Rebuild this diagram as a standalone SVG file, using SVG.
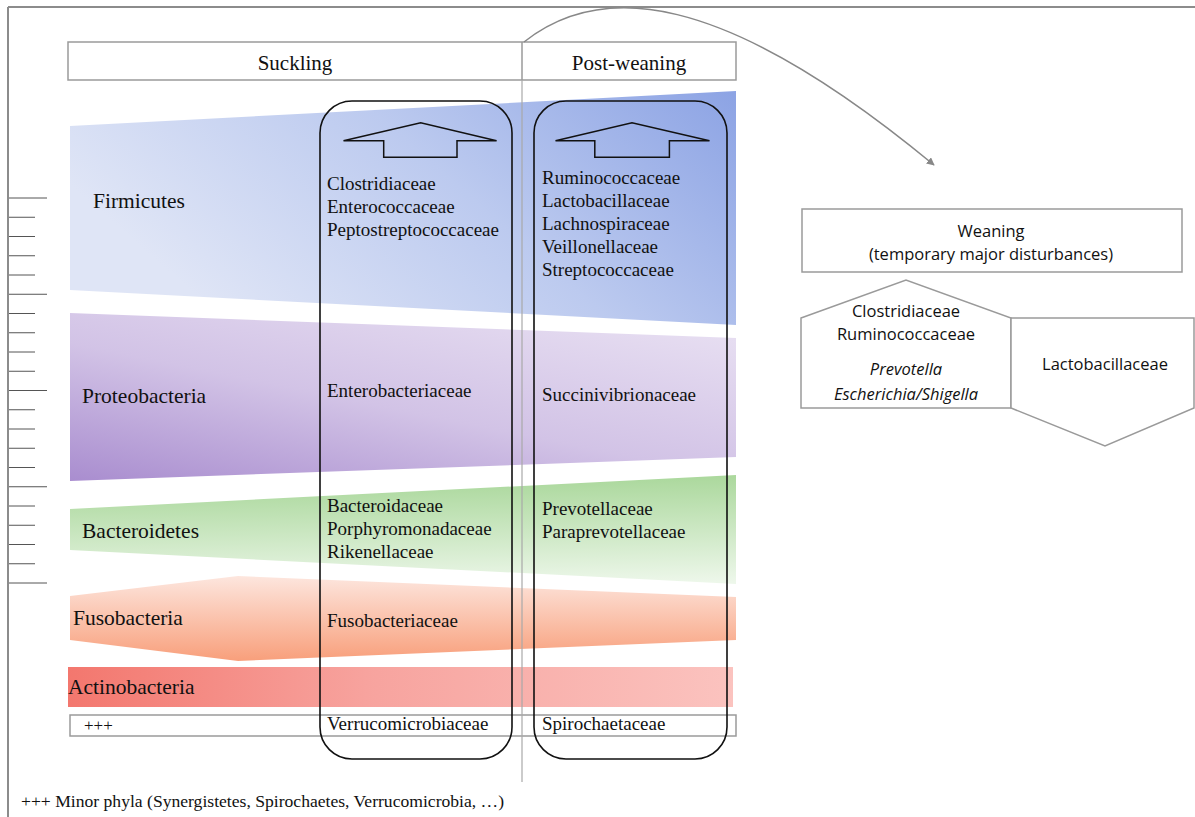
<svg xmlns="http://www.w3.org/2000/svg" width="1195" height="817" viewBox="0 0 1195 817">
  <style>
    .serif { font-family: "Liberation Serif", "Times New Roman", serif; fill: #111; }
    .phylum { font-size: 21.5px; }
    .fam { font-size: 19px; }
    .head { font-size: 21px; }
    .sans { font-family: "Open Sans", "Liberation Sans", sans-serif; fill: #111; font-size: 16.5px; }
    .frame { stroke: #8c8c8c; stroke-width: 2; fill: none; }
    .tick { stroke: #555; stroke-width: 1; }
    .gbox { fill: #fff; stroke: #9a9a9a; stroke-width: 1.5; }
    .col { fill: none; stroke: #111; stroke-width: 1.6; }
    .uparrow { fill: none; stroke: #111; stroke-width: 1.5; stroke-linejoin: miter; }
    .gshape { fill: #fff; stroke: #9a9a9a; stroke-width: 1.5; }
  </style>
  <defs>
    <linearGradient id="gFirm" x1="0" y1="0.4" x2="1" y2="0">
      <stop offset="0" stop-color="#dfe5f6"/>
      <stop offset="0.5" stop-color="#bccaef"/>
      <stop offset="1" stop-color="#8ca3e4"/>
    </linearGradient>
    <linearGradient id="gProt" x1="0" y1="1" x2="0.8" y2="0">
      <stop offset="0" stop-color="#a98dcf"/>
      <stop offset="0.5" stop-color="#d2c3e6"/>
      <stop offset="1" stop-color="#e6ddf1"/>
    </linearGradient>
    <linearGradient id="gBact" x1="0.7" y1="0" x2="0.8" y2="1">
      <stop offset="0" stop-color="#a9d79a"/>
      <stop offset="1" stop-color="#edf7ea"/>
    </linearGradient>
    <linearGradient id="gFuso" x1="0" y1="0" x2="0" y2="1">
      <stop offset="0" stop-color="#fde6de"/>
      <stop offset="1" stop-color="#f89f7b"/>
    </linearGradient>
    <linearGradient id="gActi" x1="0" y1="0" x2="1" y2="0">
      <stop offset="0" stop-color="#f3776e"/>
      <stop offset="0.45" stop-color="#f7a39e"/>
      <stop offset="1" stop-color="#fbc3bf"/>
    </linearGradient>
    <marker id="arrowHead" viewBox="0 0 10 10" refX="9" refY="5" markerWidth="8" markerHeight="8" orient="auto" markerUnits="userSpaceOnUse">
      <path d="M0,0 L10,5 L0,10 Z" fill="#888"/>
    </marker>
  </defs>

  <rect x="0" y="0" width="1195" height="817" fill="#fff"/>

  <!-- page frame -->
  <g id="frame">
    <line class="frame" x1="8" y1="7" x2="1195" y2="7"/>
    <line class="frame" x1="8" y1="7" x2="8" y2="817"/>
  </g>

  <!-- scale ticks along the left edge -->
  <g id="scale">
    <line class="tick" x1="9" y1="198" x2="47" y2="198"/>
    <line class="tick" x1="9" y1="217.25" x2="35" y2="217.25"/>
    <line class="tick" x1="9" y1="236.5" x2="35" y2="236.5"/>
    <line class="tick" x1="9" y1="255.75" x2="35" y2="255.75"/>
    <line class="tick" x1="9" y1="275" x2="35" y2="275"/>
    <line class="tick" x1="9" y1="294.25" x2="47" y2="294.25"/>
    <line class="tick" x1="9" y1="313.5" x2="35" y2="313.5"/>
    <line class="tick" x1="9" y1="332.75" x2="35" y2="332.75"/>
    <line class="tick" x1="9" y1="352" x2="35" y2="352"/>
    <line class="tick" x1="9" y1="371.25" x2="35" y2="371.25"/>
    <line class="tick" x1="9" y1="390.5" x2="47" y2="390.5"/>
    <line class="tick" x1="9" y1="409.75" x2="35" y2="409.75"/>
    <line class="tick" x1="9" y1="429" x2="35" y2="429"/>
    <line class="tick" x1="9" y1="448.25" x2="35" y2="448.25"/>
    <line class="tick" x1="9" y1="467.5" x2="35" y2="467.5"/>
    <line class="tick" x1="9" y1="486.75" x2="47" y2="486.75"/>
    <line class="tick" x1="9" y1="506" x2="35" y2="506"/>
    <line class="tick" x1="9" y1="525.25" x2="35" y2="525.25"/>
    <line class="tick" x1="9" y1="544.5" x2="35" y2="544.5"/>
    <line class="tick" x1="9" y1="563.75" x2="35" y2="563.75"/>
    <line class="tick" x1="9" y1="583" x2="47" y2="583"/>
  </g>

  <!-- phylum bands -->
  <g id="firmicutes">
    <polygon points="70,126 736,91 736,325 70,290" fill="url(#gFirm)"/>
    <text class="serif phylum" x="93" y="208">Firmicutes</text>
  </g>
  <g id="proteobacteria">
    <polygon points="70,313 736,338 736,457 70,481" fill="url(#gProt)"/>
    <text class="serif phylum" x="82" y="403">Proteobacteria</text>
  </g>
  <g id="bacteroidetes">
    <polygon points="70,509 736,475 736,584 70,550" fill="url(#gBact)"/>
    <text class="serif phylum" x="82" y="538">Bacteroidetes</text>
  </g>
  <g id="fusobacteria">
    <polygon points="70,596 238,576 736,597 736,640 238,661 70,640" fill="url(#gFuso)"/>
    <text class="serif phylum" x="73" y="625">Fusobacteria</text>
  </g>
  <g id="actinobacteria">
    <rect x="68" y="667" width="665" height="40" fill="url(#gActi)"/>
    <text class="serif phylum" x="68" y="694">Actinobacteria</text>
  </g>
  <g id="minor-phyla">
    <rect class="gbox" x="70" y="715" width="666" height="21"/>
    <text class="serif" font-size="17" x="84" y="731">+++</text>
  </g>

  <!-- period header -->
  <g id="header">
    <rect class="gbox" x="68" y="42" width="668" height="38"/>
    <line x1="522" y1="42" x2="522" y2="80" stroke="#9a9a9a" stroke-width="1.5"/>
    <text class="serif head" x="295" y="70" text-anchor="middle">Suckling</text>
    <text class="serif head" x="629" y="70" text-anchor="middle">Post-weaning</text>
  </g>

  <!-- divider between the two periods -->
  <line id="period-divider" x1="522" y1="80" x2="522" y2="782" stroke="#a8a8a8" stroke-width="1.2"/>

  <!-- suckling families -->
  <g id="suckling-column">
    <rect class="col" x="320" y="101" width="192" height="658" rx="32" ry="32"/>
    <polygon class="uparrow" points="343.5,140.7 420.7,122.7 496.6,140.7 457,140.7 457,157.3 383.7,157.3 383.7,140.7"/>
    <text class="serif fam" x="327" y="190">Clostridiaceae</text>
    <text class="serif fam" x="327" y="213">Enterococcaceae</text>
    <text class="serif fam" x="327" y="236">Peptostreptococcaceae</text>
    <text class="serif fam" x="327" y="397">Enterobacteriaceae</text>
    <text class="serif fam" x="327" y="512">Bacteroidaceae</text>
    <text class="serif fam" x="327" y="535">Porphyromonadaceae</text>
    <text class="serif fam" x="327" y="558">Rikenellaceae</text>
    <text class="serif fam" x="327" y="627">Fusobacteriaceae</text>
    <text class="serif fam" x="327" y="730">Verrucomicrobiaceae</text>
  </g>

  <!-- post-weaning families -->
  <g id="post-weaning-column">
    <rect class="col" x="534" y="101" width="193" height="658" rx="32" ry="32"/>
    <polygon class="uparrow" points="555.5,140.7 632,122.7 709.5,140.7 669.4,140.7 669.4,157.3 594.8,157.3 594.8,140.7"/>
    <text class="serif fam" x="542" y="184">Ruminococcaceae</text>
    <text class="serif fam" x="542" y="207">Lactobacillaceae</text>
    <text class="serif fam" x="542" y="230">Lachnospiraceae</text>
    <text class="serif fam" x="542" y="253">Veillonellaceae</text>
    <text class="serif fam" x="542" y="276">Streptococcaceae</text>
    <text class="serif fam" x="542" y="401">Succinivibrionaceae</text>
    <text class="serif fam" x="542" y="515">Prevotellaceae</text>
    <text class="serif fam" x="542" y="538">Paraprevotellaceae</text>
    <text class="serif fam" x="542" y="730">Spirochaetaceae</text>
  </g>

  <!-- weaning panel -->
  <g id="weaning">
    <rect class="gbox" x="802" y="209" width="380" height="63"/>
    <text class="sans" x="991" y="237" text-anchor="middle" font-size="18.5">Weaning</text>
    <text class="sans" x="991" y="260" text-anchor="middle">(temporary major disturbances)</text>
  </g>
  <g id="weaning-increase">
    <polygon class="gshape" points="801,318 906,280 1011,318 1011,408 801,408"/>
    <text class="sans" x="906" y="317" text-anchor="middle">Clostridiaceae</text>
    <text class="sans" x="906" y="340" text-anchor="middle">Ruminococcaceae</text>
    <text class="sans" x="906" y="375" text-anchor="middle" font-style="italic">Prevotella</text>
    <text class="sans" x="906" y="400" text-anchor="middle" font-style="italic">Escherichia/Shigella</text>
  </g>
  <g id="weaning-decrease">
    <polygon class="gshape" points="1011,318 1194,318 1194,408 1105,446 1011,408"/>
    <text class="sans" x="1105" y="370" text-anchor="middle">Lactobacillaceae</text>
  </g>

  <!-- connectors -->
  <g id="connectors">
    <path d="M524,42 C600,-18 720,-12 934,165" fill="none" stroke="#888" stroke-width="1.5" marker-end="url(#arrowHead)"/>
  </g>

  <!-- footnote -->
  <text class="serif" font-size="17.6" x="21" y="807">+++ Minor phyla (Synergistetes, Spirochaetes, Verrucomicrobia, …)</text>
</svg>
